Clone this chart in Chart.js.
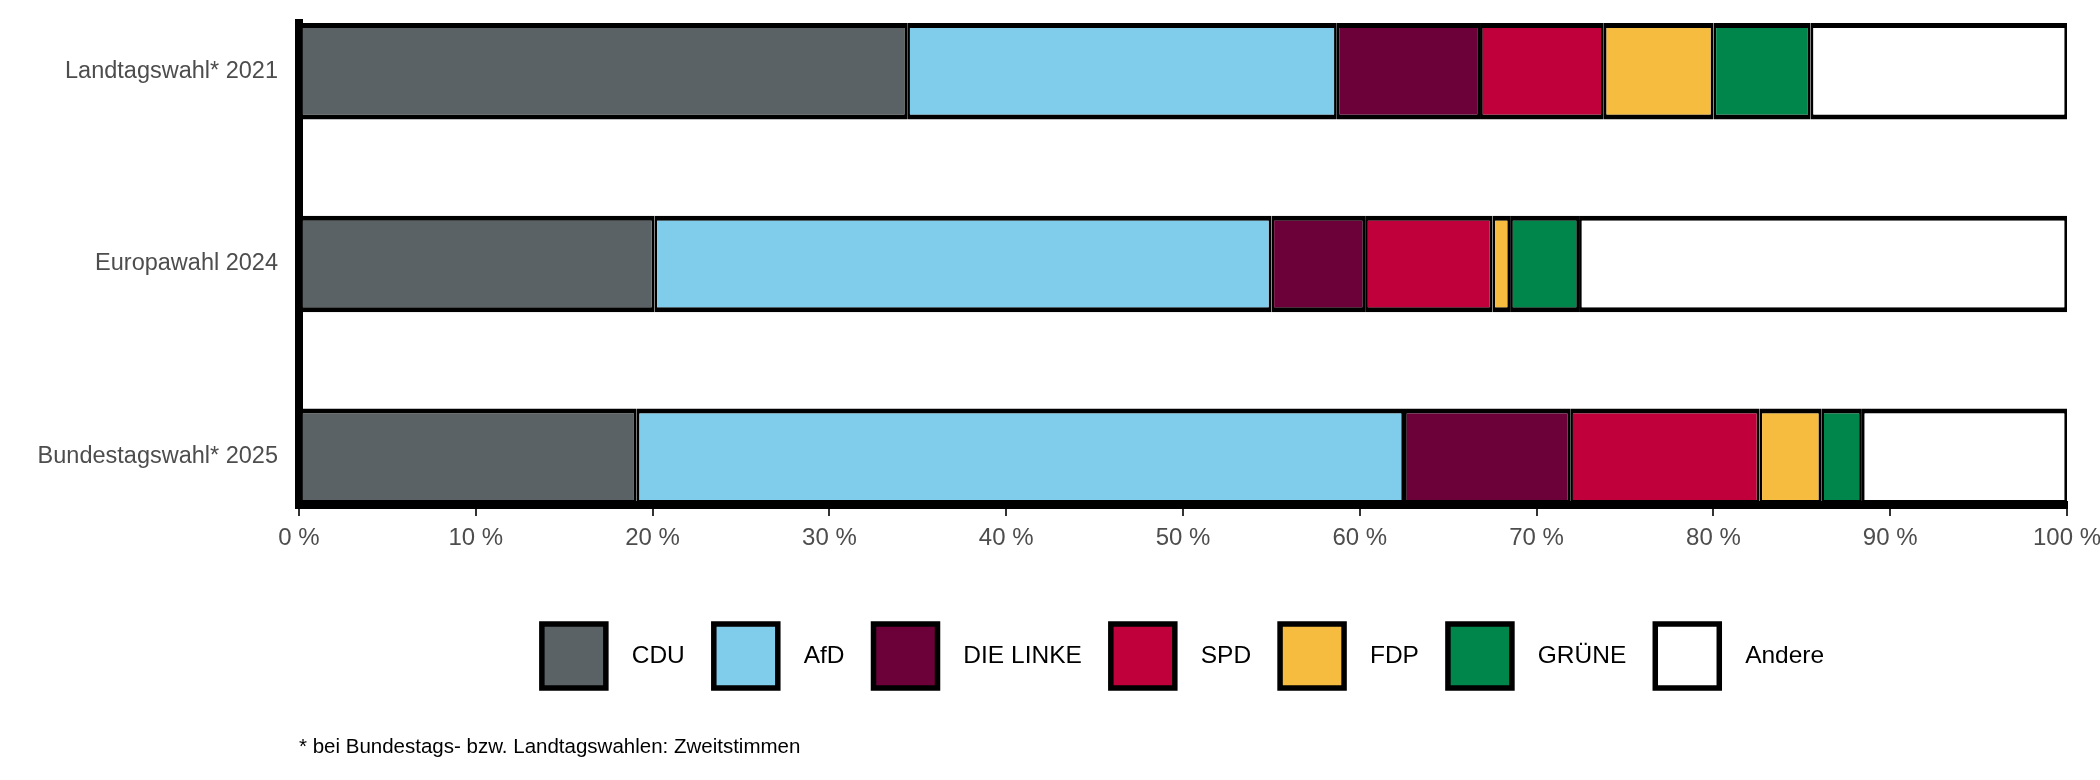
<!DOCTYPE html>
<html lang="de">
<head>
<meta charset="utf-8">
<title>Wahlergebnisse</title>
<script src="https://cdn.jsdelivr.net/npm/chart.js@4.4.1/dist/chart.umd.min.js"></script>
<style>
  html, body { margin: 0; padding: 0; background: #fff; }
  #wrap { width: 2100px; height: 780px; position: relative; }
</style>
</head>
<body>
<div id="wrap"><canvas id="myChart"></canvas></div>
<script>
// elections, top to bottom
const categories = ['Landtagswahl* 2021', 'Europawahl 2024', 'Bundestagswahl* 2025'];

// vote shares in %
const cdu    = [34.4, 20.1, 19.1];
const afd    = [24.3, 34.9, 43.4];
const linke  = [8.1, 5.3, 9.4];
const spd    = [7.0, 7.2, 10.7];
const fdp    = [6.2, 1.0, 3.5];
const gruene = [5.5, 3.9, 2.3];
const andere = [14.5, 27.6, 11.6];

const xTicks = [0, 10, 20, 30, 40, 50, 60, 70, 80, 90, 100];
const footnote = '* bei Bundestags- bzw. Landtagswahlen: Zweitstimmen';

const FONT = 'Arial, "Liberation Sans", Helvetica, sans-serif';

const parties = [
  { label: 'CDU', data: cdu, color: '#5a6265' },
  { label: 'AfD', data: afd, color: '#80cceb' },
  { label: 'DIE LINKE', data: linke, color: '#6c0038' },
  { label: 'SPD', data: spd, color: '#c0003b' },
  { label: 'FDP', data: fdp, color: '#f6bc3f' },
  { label: 'GRÜNE', data: gruene, color: '#00854a' },
  { label: 'Andere', data: andere, color: '#ffffff' },
];

const datasets = parties.map(p => ({
  label: p.label,
  data: p.data.map((v, i) => ({ x: v, y: i + 1 })),
  backgroundColor: p.color,
  borderColor: '#000',
  borderWidth: { top: 5, bottom: 5, left: 2.75, right: 2.75 },
  borderSkipped: false,
  categoryPercentage: 1,
  barPercentage: 0.5,
}));

const ctx = document.getElementById('myChart').getContext('2d');
new Chart(ctx, {
  type: 'bar',
  data: { datasets },
  options: {
    indexAxis: 'y',
    responsive: true,
    maintainAspectRatio: false,
    animation: false,
    layout: { padding: { top: 23, right: 33, bottom: 20.7, left: 0 } },
    scales: {
      x: {
        type: 'linear',
        stacked: true,
        min: 0,
        max: 100,
        z: 1,
        afterBuildTicks: scale => { scale.ticks = xTicks.map(v => ({ value: v })); },
        afterFit: scale => {
          scale.height += 34.2;
          scale.paddingLeft = 0;
          scale.paddingRight = 0;
        },
        grid: { drawOnChartArea: false, drawTicks: true, tickLength: 11, color: '#333', lineWidth: 2 },
        border: { display: true, color: '#000', width: 8 },
        ticks: {
          padding: 8,
          color: '#4d4d4d',
          font: { family: FONT, size: 24 },
          callback: v => v + ' %',
        },
      },
      y: {
        type: 'linear',
        stacked: true,
        reverse: true,
        offset: false,
        min: 0.75,
        max: 3.25,
        z: 1,
        afterBuildTicks: scale => { scale.ticks = categories.map((c, i) => ({ value: i + 1 })); },
        afterFit: scale => {
          scale.width = 299;
          scale.paddingTop = 0;
          scale.paddingBottom = 0;
        },
        grid: { drawOnChartArea: false, drawTicks: false },
        border: { display: true, color: '#000', width: 8 },
        ticks: {
          padding: 21,
          color: '#4d4d4d',
          font: { family: FONT, size: 23.5 },
          callback: v => categories[v - 1],
        },
      },
    },
    plugins: {
      tooltip: { enabled: false },
      legend: {
        position: 'bottom',
        fullSize: false,
        labels: {
          boxWidth: 64,
          boxHeight: 64,
          padding: 29,
          color: '#000',
          font: { family: FONT, size: 24.5 },
          generateLabels: chart =>
            Chart.defaults.plugins.legend.labels.generateLabels(chart).map(item => ({
              ...item,
              text: '  ' + item.text,
              lineWidth: 5.5,
              strokeStyle: '#000',
            })),
        },
      },
      subtitle: {
        display: true,
        text: footnote,
        position: 'bottom',
        fullSize: false,
        align: 'start',
        color: '#000',
        font: { family: FONT, size: 20.5, weight: 'normal' },
        padding: { top: 36.7, bottom: 0 },
      },
    },
  },
});
</script>
</body>
</html>
